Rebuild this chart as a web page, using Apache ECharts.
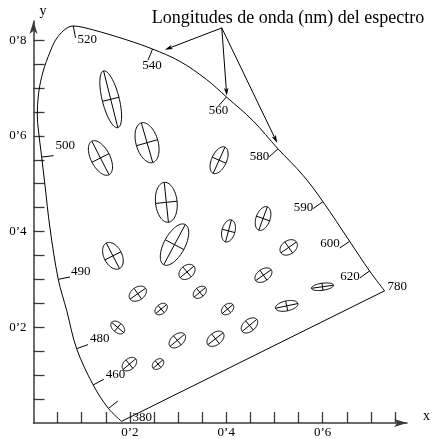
<!DOCTYPE html>
<html><head><meta charset="utf-8">
<script src="https://cdn.jsdelivr.net/npm/echarts@6/dist/echarts.min.js"></script>
<style>html,body{margin:0;padding:0;background:#fff}#c{width:433px;height:439px}</style>
</head><body><div id="c"></div>
<script>
// ---- DATA ----
// Spectral locus as drawn (CIE 1931 x,y), from 380 nm up the left side to 780 nm
const locusX = [0.1828,0.1554,0.1239,0.0895,0.0688,0.0514,0.0342,0.0238,0.0170,0.0099,0.0079,0.0099,0.0173,0.0307,0.0508,0.0825,0.1239,0.1932,0.2470,0.3036,0.3590,0.4004,0.4555,0.5073,0.5592,0.6006,0.6560,0.6974,0.7285];
const locusY = [0.0035,0.0304,0.0795,0.1553,0.2354,0.3002,0.4073,0.4969,0.5557,0.6143,0.6418,0.6832,0.7246,0.7660,0.8075,0.8296,0.8213,0.8006,0.7814,0.7557,0.7178,0.6812,0.6315,0.5729,0.5176,0.4625,0.3797,0.3176,0.2762];
// Wavelength marks on the locus
const tickWavelengths = ['', '460', '480', '490', '500', '520', '540', '560', '580', '590', '600', '620'];
const tickX = [0.1554,0.1239,0.0895,0.0514,0.0170,0.0825,0.2470,0.4004,0.5073,0.6006,0.6560,0.6974];
const tickY = [0.0304,0.0795,0.1553,0.3002,0.5557,0.8296,0.7814,0.6812,0.5729,0.4625,0.3797,0.3176];
const endWavelengths = ['380', '780'];
// MacAdam ellipses: centre (x,y), semi-axes a,b (chromaticity units), angle of major axis (deg)
const ellX = [0.1602,0.1389,0.2356,0.3851,0.2756,0.2926,0.1648,0.4046,0.4763,0.3185,0.5295,0.2164,0.3451,0.2649,0.4027,0.4771,0.5254,0.5996,0.4481,0.3776,0.2984,0.1747,0.1990,0.2584];
const ellY = [0.6764,0.5538,0.5857,0.5491,0.4611,0.3727,0.3493,0.4014,0.4273,0.3157,0.3669,0.2702,0.2731,0.2381,0.2381,0.3089,0.2447,0.2847,0.2039,0.1760,0.1727,0.1996,0.1230,0.1232];
const ellA = [0.0611,0.0394,0.0431,0.0300,0.0420,0.0476,0.0300,0.0238,0.0259,0.0186,0.0197,0.0197,0.0155,0.0145,0.0145,0.0197,0.0238,0.0232,0.0197,0.0201,0.0197,0.0166,0.0172,0.0135];
const ellB = [0.0176,0.0197,0.0228,0.0155,0.0224,0.0218,0.0186,0.0135,0.0145,0.0135,0.0141,0.0135,0.0104,0.0099,0.0099,0.0124,0.0104,0.0073,0.0124,0.0128,0.0124,0.0104,0.0114,0.0093];
const ellAngle = [104,117,106,66,96,62,117,75,70,40,35,35,40,40,40,35,12,8,40,38,40,140,40,40];
// Annotation
const annotationText = 'Longitudes de onda (nm) del espectro';
const arrowFrom = [0.3907, 0.8255];
const arrowToX = [0.2725, 0.4010, 0.5057];
const arrowToY = [0.7799, 0.6836, 0.5853];
// Axis ticks / labels
const xTickValues = [0.05,0.1,0.15,0.2,0.25,0.3,0.35,0.4,0.45,0.5,0.55,0.6,0.65,0.7,0.75];
const yTickValues = [0.05,0.1,0.15,0.2,0.25,0.3,0.35,0.4,0.45,0.5,0.55,0.6,0.65,0.7,0.75,0.8];
const xLabelValues = [0.2,0.4,0.6];
const yLabelValues = [0.2,0.4,0.6,0.8];

// ---- LAYOUT / STYLE ----
const FONT = '"Liberation Serif","DejaVu Serif",serif';
const labelLayout = {
  '460': {align:'left', dx:2, dy:-5},
  '480': {align:'left', dx:2, dy:-6},
  '490': {align:'left', dx:1, dy:-5},
  '500': {align:'left', dx:2, dy:-10},
  '520': {align:'left', dx:2, dy:2},
  '540': {align:'center', dx:4, dy:5},
  '560': {align:'center', dx:0, dy:5},
  '580': {align:'right', dx:0, dy:0},
  '590': {align:'right', dx:0, dy:-1},
  '600': {align:'right', dx:0, dy:-4},
  '620': {align:'right', dx:0, dy:-1},
  '380': {align:'left', dx:11, dy:-4},
  '780': {align:'left', dx:3, dy:-4}
};
const TICK_LEN = 12;
const fmt = v => (Math.round(v*10)/10).toFixed(1).replace('.', '\u2019');

const chart = echarts.init(document.getElementById('c'), null, {renderer:'canvas'});

const locusData = locusX.map((x,i)=>[x, locusY[i]]);
const purpleData = [[locusX[locusX.length-1], locusY[locusY.length-1]], [locusX[0], locusY[0]]];

function textEl(str, x, y, align) {
  return {type:'text', x:x, y:y, style:{text:str, font:'13px ' + FONT, fill:'#000', align:align, verticalAlign:'middle', textAlign:align, textVerticalAlign:'middle'}};
}

function renderTick(params, api) {
  const p = api.coord([api.value(0), api.value(1)]);
  const idx = api.value(2);
  const pts = locusData.map(d => api.coord(d));
  let j = 0, best = Infinity;
  pts.forEach((q,k)=>{ const d=(q[0]-p[0])**2+(q[1]-p[1])**2; if(d<best){best=d;j=k;} });
  const a = pts[Math.max(j-1,0)], b = pts[Math.min(j+1,pts.length-1)];
  let tx = b[0]-a[0], ty = b[1]-a[1];
  const L = Math.hypot(tx,ty); tx/=L; ty/=L;
  let nx = ty, ny = -tx;
  const c = api.coord([0.33,0.33]);
  if (nx*(c[0]-p[0]) + ny*(c[1]-p[1]) < 0) { nx=-nx; ny=-ny; }
  const e = [p[0]+nx*TICK_LEN, p[1]+ny*TICK_LEN];
  const children = [{type:'line', shape:{x1:p[0],y1:p[1],x2:e[0],y2:e[1]}, style:{stroke:'#000', lineWidth:1}}];
  const lbl = tickWavelengths[idx];
  if (lbl) {
    const L2 = labelLayout[lbl];
    children.push(textEl(lbl, e[0]+L2.dx, e[1]+L2.dy, L2.align));
  }
  return {type:'group', children};
}

function renderEnd(params, api) {
  const p = api.coord([api.value(0), api.value(1)]);
  const lbl = endWavelengths[api.value(2)];
  const L2 = labelLayout[lbl];
  return textEl(lbl, p[0]+L2.dx, p[1]+L2.dy, L2.align);
}

function renderEllipse(params, api) {
  const c = api.coord([api.value(0), api.value(1)]);
  const a = api.value(2), b = api.value(3), th = api.value(4)*Math.PI/180;
  const s = api.size([1,1]);
  const ct = Math.cos(th), st = Math.sin(th);
  const P = (u,v) => { const dx = u*ct - v*st, dy = u*st + v*ct; return [c[0]+dx*s[0], c[1]-dy*s[1]]; };
  const pts = [];
  for (let i=0;i<72;i++){ const t=i/72*2*Math.PI; pts.push(P(a*Math.cos(t), b*Math.sin(t))); }
  const m1=P(-a,0), m2=P(a,0), n1=P(0,-b), n2=P(0,b);
  const st1 = {stroke:'#000', lineWidth:1, fill:null};
  return {type:'group', children:[
    {type:'polygon', shape:{points:pts}, style:{stroke:'#000', lineWidth:1, fill:null}},
    {type:'line', shape:{x1:m1[0],y1:m1[1],x2:m2[0],y2:m2[1]}, style:st1},
    {type:'line', shape:{x1:n1[0],y1:n1[1],x2:n2[0],y2:n2[1]}, style:st1}
  ]};
}

function renderArrow(params, api) {
  const p0 = api.coord([api.value(0), api.value(1)]);
  const p1 = api.coord([api.value(2), api.value(3)]);
  let dx = p1[0]-p0[0], dy = p1[1]-p0[1];
  const L = Math.hypot(dx,dy); dx/=L; dy/=L;
  const len = 8, w = 2.3;
  const base = [p1[0]-dx*len, p1[1]-dy*len];
  const notch = [p1[0]-dx*len*0.75, p1[1]-dy*len*0.75];
  return {type:'group', children:[
    {type:'line', shape:{x1:p0[0],y1:p0[1],x2:notch[0],y2:notch[1]}, style:{stroke:'#000', lineWidth:1}},
    {type:'polygon', shape:{points:[p1,[base[0]-dy*w, base[1]+dx*w],notch,[base[0]+dy*w, base[1]-dx*w]]}, style:{fill:'#000'}}
  ]};
}

const axisCommon = {
  type:'value', min:0,
  splitLine:{show:false},
  axisLine:{show:true, onZero:false, symbol:['none','arrow'], symbolSize:[6,13], lineStyle:{color:'#3a3a3a', width:1.5}},
  axisTick:{show:true, inside:true, length:11, lineStyle:{color:'#3a3a3a', width:1.3}},
  nameTextStyle:{fontFamily:FONT, fontSize:14, color:'#000'}
};

chart.setOption({
  animation:false,
  backgroundColor:'#fff',
  grid:{left:33.5, top:21, width:373.9, height:405.7, containLabel:false},
  xAxis: Object.assign({}, axisCommon, {
    max:0.775, name:'x', nameLocation:'end', nameGap:16,
    nameTextStyle:{fontFamily:FONT, fontSize:14, color:'#000', verticalAlign:'bottom', padding:[0,0,0,0]},
    axisTick:Object.assign({}, axisCommon.axisTick, {customValues:xTickValues}),
    axisLabel:{customValues:xLabelValues, formatter:fmt, margin:3, fontFamily:FONT, fontSize:13, color:'#000'}
  }),
  yAxis: Object.assign({}, axisCommon, {
    max:0.84, name:'y', nameLocation:'end', nameGap:3,
    nameTextStyle:{fontFamily:FONT, fontSize:14, color:'#000', align:'left', padding:[0,0,0,6]},
    axisTick:Object.assign({}, axisCommon.axisTick, {customValues:yTickValues}),
    axisLabel:{customValues:yLabelValues, formatter:fmt, margin:7, fontFamily:FONT, fontSize:13, color:'#000'}
  }),
  graphic:[{type:'text', x:288, y:18, style:{text:annotationText, font:'18px ' + FONT, fill:'#000', align:'center', verticalAlign:'middle', textAlign:'center', textVerticalAlign:'middle'}}],
  series:[
    {type:'line', data:locusData, smooth:0.35, showSymbol:false, symbol:'none', clip:false, lineStyle:{color:'#000', width:1}, silent:true},
    {type:'line', data:purpleData, showSymbol:false, symbol:'none', clip:false, lineStyle:{color:'#000', width:1}, silent:true},
    {type:'custom', renderItem:renderTick, data:tickX.map((x,i)=>[x, tickY[i], i]), encode:{x:0,y:1}, clip:false, silent:true},
    {type:'custom', renderItem:renderEnd, data:[[locusX[0],locusY[0],0],[locusX[locusX.length-1],locusY[locusY.length-1],1]], encode:{x:0,y:1}, clip:false, silent:true},
    {type:'custom', renderItem:renderEllipse, data:ellX.map((x,i)=>[x, ellY[i], ellA[i], ellB[i], ellAngle[i]]), encode:{x:0,y:1}, clip:false, silent:true},
    {type:'custom', renderItem:renderArrow, data:arrowToX.map((x,i)=>[arrowFrom[0], arrowFrom[1], x, arrowToY[i]]), encode:{x:[0,2],y:[1,3]}, clip:false, silent:true}
  ]
});
</script></body></html>
